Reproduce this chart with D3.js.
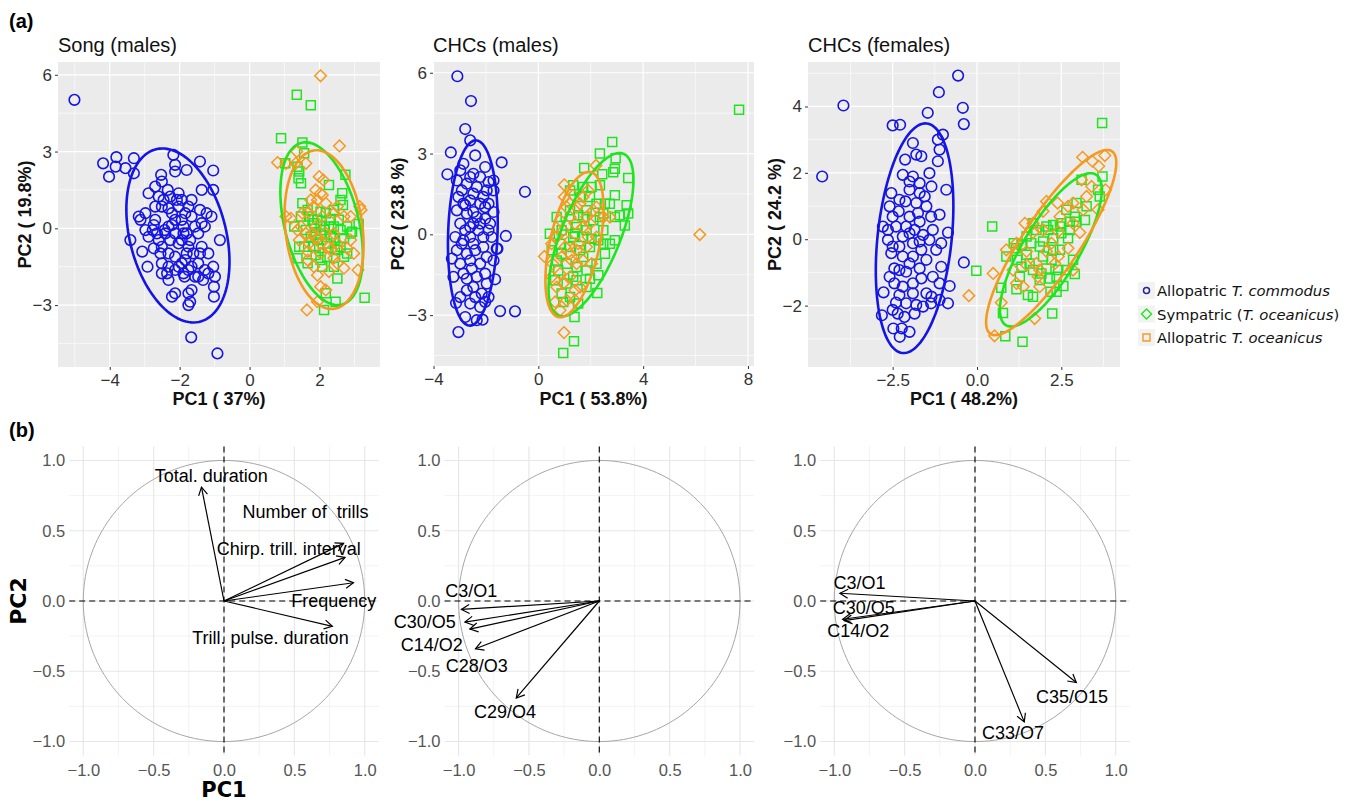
<!DOCTYPE html>
<html>
<head>
<meta charset="utf-8">
<script src="https://cdn.jsdelivr.net/npm/d3@7"></script>
<style>
  body { margin: 0; background: #fff; }
  svg { display: block; }
</style>
</head>
<body>
<svg id="fig"></svg>
<script>
// ---------- data ----------
var groups = ['commodus', 'sympatric', 'alloOceanicus'];

// (a) Song (males) : PC1 / PC2 scores
var songCommodus = [[-5.01,5.02],[-4.19,2.54],[-3.81,2.78],[-3.83,2.41],[-4.02,2.02],[-3.55,2.35],[-3.31,2.74],[-3.31,2.15],[-2.18,2.87],[-2.13,2.48],[-2.13,2.22],[-1.42,2.61],[-1.04,2.26],[-1.04,1.5],[-1.37,1.5],[-1.8,2.28],[-2.53,2.09],[-2.51,1.83],[-2.7,1.63],[-2.89,1.37],[-2.34,1.5],[-2.03,1.37],[-1.66,1.11],[-1.94,1.11],[-2.27,1.24],[-2.6,1.24],[-3.17,0.46],[-3.12,0.33],[-2.98,-0.07],[-2.74,0.13],[-3.41,-0.46],[-3.07,-0.91],[-2.89,-0.33],[-2.92,-1.5],[-2.55,-0.98],[-2.51,-1.37],[-2.36,-1.76],[-2.32,-2.02],[-2.22,-2.67],[-2.13,-2.54],[-1.75,-2.54],[-1.7,-2.87],[-1.75,-3.0],[-1.66,-2.41],[-1.86,-1.89],[-2.03,-1.5],[-1.47,-1.89],[-1.28,-1.63],[-1.04,-1.5],[-0.99,-1.89],[-1.02,-2.28],[-1.02,-2.67],[-0.85,-0.46],[-1.09,0.46],[-1.37,0.2],[-1.56,0.07],[-1.18,-0.98],[-1.42,-0.98],[-1.75,-0.72],[-1.94,-0.46],[-2.13,-0.2],[-2.32,0.07],[-2.41,-0.2],[-2.22,0.59],[-2.03,0.85],[-2.51,0.85],[-2.7,0.33],[-2.65,-0.2],[-2.51,-0.72],[-2.32,-0.98],[-2.13,-1.11],[-1.84,-1.24],[-1.66,-1.5],[-1.56,-1.89],[-1.33,-2.02],[-1.66,0.46],[-1.84,0.59],[-2.13,0.33],[-1.89,0.07],[-1.8,-0.2],[-2.03,-0.59],[-1.67,-4.26],[-0.92,-4.89],[-2.98,0.59],[-2.77,-0.07],[-1.61,-0.98],[-1.37,-0.72],[-1.89,-1.76],
  [-2.46,1.11],[-2.32,0.78],[-1.94,0.33],[-2.22,0.13],[-2.43,-0.07],[-2.6,-0.46],[-2.27,-0.46],[-1.89,-0.2],[-1.7,-0.46],[-1.47,-0.2],[-1.28,0.07],[-1.8,-0.98],[-1.94,-1.37],[-2.13,-1.63],[-1.75,-1.63],[-1.47,-1.37],[-1.18,-1.76],[-2.32,-1.5],[-2.51,-1.76],[-2.74,-0.78],[-2.08,1.11],[-1.75,0.85],[-1.42,0.72],[-1.23,0.59],[-2.7,0.85]];
var songSympatric = [[1.35,5.22],[1.75,4.81],[0.9,3.52],[1.51,3.35],[1.56,2.93],[1.02,2.54],[1.37,2.41],[1.42,2.22],[1.4,1.96],[1.47,1.76],[2.27,1.69],[2.74,2.09],[2.65,1.37],[2.6,1.11],[2.67,0.91],[1.51,0.98],[1.66,0.72],[2.03,0.65],[2.18,0.59],[2.41,0.72],[2.55,0.33],[3.12,0.17],[2.93,-0.13],[2.6,-0.07],[2.27,0.07],[1.84,0.2],[1.47,0.46],[1.28,0.07],[1.75,-0.33],[2.03,-0.2],[2.41,-0.39],[2.7,-0.39],[2.6,-0.72],[2.7,-1.11],[2.22,-1.11],[1.89,-1.04],[1.56,-0.72],[1.37,-1.17],[1.66,-1.37],[2.08,-1.5],[2.41,-1.5],[2.51,-1.96],[2.18,-2.54],[2.46,-2.87],[2.13,-3.19],[3.29,-2.71],[2.79,-0.98],[1.94,-0.46],[2.13,-0.07],[1.8,0.33],[2.32,-0.33],[1.99,-0.78],[2.44,-0.81],
  [1.7,0.46],[1.94,0.33],[2.32,0.33],[2.79,0.07],[2.41,0.07],[2.03,0.07],[1.61,-0.07],[1.89,-0.26],[2.22,-0.59],[2.51,-0.85],[1.84,-0.72],[1.42,-0.72],[2.03,-1.24],[2.89,-0.2]];
var songAlloOceanicus = [[2.03,5.96],[2.57,3.22],[0.8,2.57],[1.04,2.54],[1.35,3.0],[1.32,2.54],[1.61,2.54],[1.99,2.02],[2.11,1.89],[1.89,1.5],[1.94,1.11],[2.08,1.3],[1.75,1.11],[2.18,0.98],[2.51,0.85],[3.15,0.85],[3.19,0.72],[2.89,0.46],[1.04,0.46],[1.18,0.39],[1.37,-0.07],[1.42,-0.46],[1.61,-0.2],[1.89,0.07],[1.8,-0.2],[2.03,-0.59],[2.27,-0.72],[2.41,-0.2],[2.89,-0.46],[2.79,-0.78],[2.41,-1.17],[2.03,-0.98],[1.66,-1.24],[1.84,-1.5],[1.94,-1.83],[2.27,-1.69],[2.7,-1.56],[3.1,-1.63],[2.03,-2.28],[2.18,-2.41],[1.94,-2.87],[1.64,-3.19],[1.66,-0.91],[2.32,-0.85],[2.08,0.46],[1.66,0.59],
  [1.51,0.59],[1.84,0.85],[2.41,0.59],[2.7,0.46],[2.18,-0.2],[1.94,-0.39],[2.51,-0.59],[1.7,-0.59],[2.98,-0.98],[2.51,-1.37],[1.47,0.07],[2.03,1.37]];

// (a) CHCs (males)
var chcMCommodus = [[-3.09,5.87],[-2.57,4.95],[-2.79,3.91],[-3.34,3.04],[-2.6,3.49],[-2.41,2.93],[-3.47,2.23],[-1.4,2.67],[-0.51,1.58],[-2.86,2.62],[-2.03,2.5],[-1.71,2.0],[-3.11,2.0],[-2.73,1.88],[-2.35,1.76],[-1.97,1.63],[-1.71,1.63],[-3.05,1.39],[-2.6,1.26],[-2.22,1.14],[-1.9,1.14],[-1.71,0.83],[-3.11,0.89],[-2.73,0.77],[-2.35,0.64],[-2.03,0.58],[-2.98,0.4],[-2.6,0.27],[-2.29,0.15],[-1.9,0.15],[-1.24,-0.06],[-3.17,-0.1],[-2.86,-0.22],[-2.48,-0.35],[-2.1,-0.47],[-1.59,-0.53],[-1.71,-0.97],[-3.3,-0.9],[-2.98,-1.09],[-2.6,-0.97],[-2.22,-1.09],[-3.24,-1.58],[-2.73,-1.65],[-2.35,-1.58],[-1.65,-1.67],[-1.97,-1.83],[-2.73,-2.08],[-2.16,-2.2],[-1.9,-2.33],[-3.14,-2.55],[-2.6,-2.57],[-2.22,-2.7],[-2.03,-2.51],[-2.79,-3.07],[-2.35,-3.19],[-2.13,-3.17],[-3.05,-3.63],[-1.46,-2.85],[-0.89,-2.86],[-1.56,-0.53],[-2.48,2.25],[-2.92,-0.35],[-2.48,0.4],[-2.1,1.39],[-2.6,-0.1],[-2.86,1.14],
  [-2.98,2.38],[-2.6,2.13],[-2.22,2.13],[-1.9,1.94],[-2.92,1.63],[-2.48,1.51],[-2.03,1.01],[-2.79,1.08],[-2.48,0.83],[-2.22,0.4],[-2.79,0.15],[-2.1,-0.1],[-2.41,-0.59],[-2.73,-0.72],[-3.11,-0.59],[-1.97,-0.84],[-2.54,-1.27],[-2.86,-1.46],[-2.03,-1.46],[-2.48,-1.96],[-2.98,-2.33],[-2.41,-2.33],[-1.78,-0.1],[-1.84,0.4]];
var chcMSympatric = [[7.66,4.63],[2.82,3.43],[2.35,3.0],[2.95,2.83],[2.92,2.44],[2.86,2.31],[2.44,2.23],[3.43,2.09],[1.75,2.46],[1.33,1.82],[1.71,1.76],[2.03,1.76],[2.35,1.82],[2.92,1.45],[3.37,1.08],[3.43,0.77],[3.11,0.71],[2.92,0.64],[3.3,0.33],[2.54,1.14],[2.22,1.14],[1.84,0.89],[1.52,0.71],[1.21,0.89],[0.7,0.64],[1.08,0.33],[1.46,0.27],[1.84,0.15],[2.48,0.15],[2.92,-0.22],[2.73,-0.35],[2.54,-0.72],[2.29,-0.22],[1.97,-0.47],[1.59,-0.59],[1.21,-0.47],[0.83,-0.35],[0.51,-0.59],[0.7,-0.97],[1.08,-1.09],[1.46,-1.21],[1.84,-1.34],[2.29,-1.52],[1.97,-1.65],[1.46,-1.71],[1.08,-1.83],[0.64,-1.71],[0.89,-2.2],[1.21,-2.33],[1.52,-2.57],[0.95,-2.51],[2.25,-2.18],[1.38,-3.07],[1.36,-3.97],[0.95,-4.41],[0.44,0.02],[1.71,-0.1],[1.33,-0.1],[2.1,0.52],[2.48,0.77],
  [1.21,1.63],[1.59,1.39],[1.97,1.39],[2.73,1.14],[2.35,0.64],[1.71,0.64],[0.89,0.15],[1.4,0.02],[2.03,-0.16],[2.48,-0.35],[0.89,-0.72],[1.71,-0.84],[2.22,-1.09],[1.33,-1.58],[0.76,-1.34],[1.84,-1.96]];
var chcMAlloOceanicus = [[6.16,-0.01],[2.2,2.56],[0.99,1.84],[0.99,1.39],[1.33,1.45],[1.71,1.39],[1.9,1.63],[1.46,1.01],[1.21,0.64],[1.84,0.64],[0.95,0.15],[0.7,-0.1],[1.21,-0.22],[1.52,-0.35],[1.9,-0.1],[0.23,-0.82],[0.55,-1.09],[0.89,-0.84],[1.27,-0.97],[1.71,-0.97],[2.03,-1.09],[0.83,-1.46],[1.21,-1.58],[1.59,-1.96],[0.7,-1.96],[1.08,-2.45],[0.64,-2.51],[0.83,-2.82],[1.4,-2.45],[0.98,-3.65],[2.22,1.01],[2.48,0.64],[2.73,0.64],[1.21,1.14],[1.71,0.27],[1.97,0.4],[1.02,-0.47],[0.63,-0.1],[1.46,-0.59],[1.84,-0.47],
  [1.08,1.01],[1.59,1.14],[0.83,0.52],[1.4,0.4],[2.1,0.89],[0.51,-0.35],[1.21,-0.72],[1.46,-1.09],[0.95,-1.83],[1.4,-2.08],[0.51,-1.58],[2.22,-0.1]];

// (a) CHCs (females)
var chcFCommodus = [[-4.59,1.89],[-3.96,4.03],[-0.56,4.93],[-1.13,4.43],[-1.46,3.81],[-0.42,3.96],[-0.39,3.47],[-2.5,3.43],[-2.28,3.45],[-1.01,3.15],[-1.16,3.0],[-1.9,2.9],[-1.11,2.7],[-1.8,2.55],[-1.65,2.5],[-2.13,2.4],[-1.16,2.35],[-1.41,1.99],[-2.2,1.94],[-1.9,1.89],[-1.35,1.59],[-0.91,1.49],[-2.54,1.39],[-2.0,1.49],[-1.7,1.39],[-2.12,1.14],[-1.8,1.09],[-1.5,0.99],[-2.59,0.99],[-1.11,0.74],[-2.32,0.84],[-2.0,0.68],[-1.7,0.53],[-2.79,0.38],[-2.4,0.38],[-2.1,0.38],[-1.85,0.28],[-0.86,0.2],[-2.64,-0.02],[-2.2,0.08],[-1.41,-0.02],[-1.9,-0.12],[-2.54,-0.42],[-2.2,-0.52],[-1.65,-0.32],[-1.21,-0.32],[-0.39,-0.7],[-1.06,-0.83],[-1.7,-0.88],[-2.45,-0.88],[-2.1,-0.98],[-1.31,-1.13],[-2.45,-1.33],[-1.9,-1.33],[-0.81,-1.41],[-2.77,-1.6],[-2.3,-1.68],[-1.5,-1.63],[-1.35,-1.73],[-1.11,-1.83],[-0.86,-1.93],[-2.4,-1.91],[-2.1,-1.93],[-1.8,-1.98],[-1.6,-2.03],[-2.82,-2.29],[-2.35,-2.24],[-2.15,-2.34],[-2.48,-2.69],[-2.23,-2.69],[-2.0,-2.79],[-2.29,-2.94],[-1.6,0.13],[-2.3,-0.22],[-2.0,-0.73],
  [-2.0,1.74],[-1.7,1.69],[-1.55,1.29],[-2.3,1.19],[-2.5,0.68],[-1.75,0.79],[-1.36,0.68],[-2.64,0.28],[-2.0,0.18],[-1.31,0.28],[-1.06,-0.12],[-1.7,-0.07],[-2.5,-0.22],[-1.9,-0.52],[-1.5,-0.62],[-2.3,-0.93],[-2.59,-1.13],[-1.65,-1.18],[-1.11,-1.33],[-2.2,-1.43],[-1.9,-1.63],[-2.5,-2.13],[-1.85,-2.24],[-1.36,-1.93]];
var chcFSympatric = [[3.71,3.5],[3.72,1.89],[3.59,1.49],[3.64,1.29],[3.1,1.79],[3.25,0.99],[2.95,1.09],[2.65,0.89],[3.2,0.58],[2.95,0.53],[2.75,0.53],[2.5,0.48],[2.26,0.43],[2.06,0.38],[2.5,0.18],[2.7,0.03],[2.26,0.03],[1.96,-0.07],[1.61,-0.12],[1.32,-0.17],[1.15,-0.27],[1.09,-0.12],[0.45,0.38],[-0.02,-0.95],[0.87,-0.52],[1.19,-0.62],[1.47,-0.47],[1.96,-0.52],[2.21,-0.62],[2.41,-0.93],[2.65,-0.93],[2.9,-1.05],[1.32,-0.83],[1.66,-0.93],[1.91,-1.03],[2.16,-1.18],[2.56,-1.41],[0.72,-1.46],[1.17,-1.51],[1.51,-1.68],[1.66,-1.73],[2.18,-1.58],[2.36,-1.58],[0.77,-2.22],[2.23,-2.24],[0.84,-2.92],[1.35,-3.09],[1.86,-1.23],[2.46,-0.32],[1.76,0.28],[2.9,0.68],
  [1.66,0.48],[2.11,0.28],[2.46,0.38],[2.75,0.28],[1.47,0.08],[1.86,-0.22],[2.26,-0.32],[1.56,-0.73],[2.06,-0.88],[2.36,-1.13],[1.27,-1.13],[2.85,-0.62]];
var chcFAlloOceanicus = [[3.13,2.47],[3.42,2.35],[3.79,2.52],[3.61,2.2],[3.81,1.49],[3.59,0.89],[3.1,1.79],[3.25,1.29],[2.85,1.09],[2.39,1.09],[2.06,1.14],[1.96,0.84],[2.7,0.99],[3.05,0.2],[2.41,0.23],[1.66,0.48],[1.42,0.48],[1.66,0.2],[2.21,-0.12],[2.7,-0.27],[0.87,-0.32],[1.47,-0.37],[2.06,-0.37],[1.47,-0.78],[1.76,-0.73],[0.48,-1.03],[1.17,-1.33],[1.37,-1.43],[1.81,-1.13],[1.86,-1.43],[0.72,-1.91],[-0.24,-1.7],[1.71,-2.39],[0.52,-2.91],[2.85,-0.93],[2.31,-0.73],
  [1.96,0.28],[2.46,0.68],[2.85,0.48],[1.17,-0.12],[1.86,-0.93],[2.41,-0.52],[1.07,-0.93],[3.15,0.89],[3.4,1.59]];

// 95% ellipses: centre x, centre y, half-extent x, half-extent y, correlation
var songEllipses = [[-2.05,-0.28,1.475,3.4,-0.3],[2.06,0.18,1.18,3.18,-0.39],[2.13,-0.05,1.13,3.1,-0.19]];
var chcMEllipses = [[-2.5,0.05,0.95,3.44,0.12],[2.01,-0.01,1.62,3.03,0.67],[1.38,-0.38,1.11,2.7,0.49]];
var chcFEllipses = [[-1.85,0.03,1.15,3.46,0.28],[2.19,-0.32,1.51,2.31,0.78],[2.2,-0.1,1.93,2.79,0.86]];

// (b) variable loadings
var songVars = ['Total. duration','Number of  trills','Chirp. trill. interval','Frequency','Trill. pulse. duration'];
var songLoadings = [[-0.16,0.81],[0.85,0.41],[0.86,0.31],[0.92,0.13],[0.77,-0.18]];
var songLabelPos = [[-0.09,0.89],[0.58,0.63],[0.46,0.37],[0.78,0.0],[0.33,-0.26]];
var chcMVars = ['C3/O1','C30/O5','C14/O2','C28/O3','C29/O4'];
var chcMLoadings = [[-0.98,-0.06],[-0.955,-0.15],[-0.92,-0.2],[-0.88,-0.34],[-0.59,-0.69]];
var chcMLabelPos = [[-0.91,0.07],[-1.24,-0.15],[-1.19,-0.31],[-0.87,-0.46],[-0.67,-0.79]];
var chcFVars = ['C3/O1','C30/O5','C14/O2','C35/O15','C33/O7'];
var chcFLoadings = [[-0.96,0.055],[-0.94,-0.13],[-0.93,-0.14],[0.72,-0.58],[0.35,-0.86]];
var chcFLabelPos = [[-0.82,0.13],[-0.79,-0.05],[-0.83,-0.21],[0.69,-0.68],[0.27,-0.94]];

var colors = {commodus:'#1414e6', sympatric:'#1ee61e', alloOceanicus:'#f59a1e'};
var legendLabels = [
  ['Allopatric ', 'T. commodus', ''],
  ['Sympatric (', 'T. oceanicus', ')'],
  ['Allopatric ', 'T. oceanicus', '']
];

// ---------- drawing ----------
var width = 1354, height = 803;
var svg = d3.select('#fig').attr('width', width).attr('height', height)
  .style('font-family', '"Liberation Sans", Arial, sans-serif');

var defs = svg.append('defs');
defs.append('marker').attr('id', 'arr')
  .attr('viewBox', '-10 -6 12 12').attr('refX', 0).attr('refY', 0)
  .attr('markerWidth', 12).attr('markerHeight', 12)
  .attr('markerUnits', 'userSpaceOnUse').attr('orient', 'auto')
  .append('path').attr('d', 'M-8,-4.5L0,0L-8,4.5')
  .attr('fill', 'none').attr('stroke', '#000').attr('stroke-width', 1.2);

function shapePath(kind) {
  if (kind == 'square') return 'M-4.5,-4.5H4.5V4.5H-4.5Z';
  if (kind == 'diamond') return 'M0,-5.8L5.8,0L0,5.8L-5.8,0Z';
  return null;
}

function scatterPanel(cfg) {
  var x = d3.scaleLinear().domain(cfg.xDom).range([cfg.left, cfg.right]);
  var y = d3.scaleLinear().domain(cfg.yDom).range([cfg.bottom, cfg.top]);
  var g = svg.append('g');

  g.append('rect').attr('x', cfg.left).attr('y', cfg.top)
    .attr('width', cfg.right - cfg.left).attr('height', cfg.bottom - cfg.top)
    .attr('fill', '#ebebeb');

  // grid
  g.selectAll('.vminor').data(cfg.xMinor).enter().append('line')
    .attr('x1', x).attr('x2', x).attr('y1', cfg.top).attr('y2', cfg.bottom)
    .attr('stroke', '#fff').attr('stroke-width', 0.6);
  g.selectAll('.hminor').data(cfg.yMinor).enter().append('line')
    .attr('y1', y).attr('y2', y).attr('x1', cfg.left).attr('x2', cfg.right)
    .attr('stroke', '#fff').attr('stroke-width', 0.6);
  g.selectAll('.vmajor').data(cfg.xTicks).enter().append('line')
    .attr('x1', x).attr('x2', x).attr('y1', cfg.top).attr('y2', cfg.bottom)
    .attr('stroke', '#fff').attr('stroke-width', 1.2);
  g.selectAll('.hmajor').data(cfg.yTicks).enter().append('line')
    .attr('y1', y).attr('y2', y).attr('x1', cfg.left).attr('x2', cfg.right)
    .attr('stroke', '#fff').attr('stroke-width', 1.2);

  // axes
  var xa = g.append('g').attr('transform', 'translate(0,' + cfg.bottom + ')')
    .call(d3.axisBottom(x).tickValues(cfg.xTicks).tickSize(3).tickPadding(4).tickFormat(cfg.fmtX));
  var ya = g.append('g').attr('transform', 'translate(' + cfg.left + ',0)')
    .call(d3.axisLeft(y).tickValues(cfg.yTicks).tickSize(3).tickPadding(3).tickFormat(cfg.fmtY));
  [xa, ya].forEach(function(a) {
    a.select('.domain').remove();
    a.selectAll('line').attr('stroke', '#333');
    a.selectAll('text').attr('fill', '#333').style('font-size', '17px')
      .style('font-family', '"Liberation Sans", Arial, sans-serif');
  });

  // points
  cfg.sets.forEach(function(set) {
    var col = colors[set.group];
    var pts = g.append('g').selectAll('g').data(set.data).enter().append('g')
      .attr('transform', function(d) { return 'translate(' + x(d[0]) + ',' + y(d[1]) + ')'; });
    if (set.shape == 'circle') {
      pts.append('circle').attr('r', 5.3).attr('fill', 'none')
        .attr('stroke', col).attr('stroke-width', 1.6);
    } else {
      pts.append('path').attr('d', shapePath(set.shape)).attr('fill', 'none')
        .attr('stroke', col).attr('stroke-width', 1.5);
    }
  });

  // ellipses
  var line = d3.line().x(function(p) { return x(p[0]); }).y(function(p) { return y(p[1]); })
    .curve(d3.curveLinearClosed);
  cfg.ellipses.forEach(function(e, i) {
    var phi = Math.acos(e[4]);
    var pts = d3.range(0, 360, 3).map(function(a) {
      var t = a * Math.PI / 180;
      return [e[0] + e[2] * Math.cos(t), e[1] + e[3] * Math.cos(t - phi)];
    });
    g.append('path').attr('d', line(pts)).attr('fill', 'none')
      .attr('stroke', colors[groups[i]]).attr('stroke-width', 2.6);
  });

  // titles
  g.append('text').attr('x', cfg.left).attr('y', 52).text(cfg.title)
    .style('font-size', '20px').attr('fill', '#111');
  g.append('text').attr('x', (cfg.left + cfg.right) / 2).attr('y', 405)
    .attr('text-anchor', 'middle').text(cfg.xTitle)
    .style('font-size', '18px').style('font-weight', 'bold').attr('fill', '#111');
  g.append('text').attr('transform', 'translate(' + cfg.yTitleX + ',' + ((cfg.top + cfg.bottom) / 2) + ') rotate(-90)')
    .attr('text-anchor', 'middle').text(cfg.yTitle)
    .style('font-size', '18px').style('font-weight', 'bold').attr('fill', '#111');
}

var f0 = d3.format('d'), f1 = d3.format('.1f');

scatterPanel({
  left: 58, right: 380, top: 62, bottom: 367,
  xDom: [-5.48, 3.73], yDom: [-5.42, 6.5],
  xTicks: [-4, -2, 0, 2], xMinor: [-5, -3, -1, 1, 3],
  yTicks: [-3, 0, 3, 6], yMinor: [-4.5, -1.5, 1.5, 4.5],
  fmtX: f0, fmtY: f0,
  title: 'Song (males)', xTitle: 'PC1 ( 37%)', yTitle: 'PC2 ( 19.8%)', yTitleX: 31,
  ellipses: songEllipses,
  sets: [
    {group: 'commodus', shape: 'circle', data: songCommodus},
    {group: 'sympatric', shape: 'square', data: songSympatric},
    {group: 'alloOceanicus', shape: 'diamond', data: songAlloOceanicus}
  ]
});

scatterPanel({
  left: 433, right: 754, top: 62, bottom: 366,
  xDom: [-4.02, 8.23], yDom: [-4.89, 6.4],
  xTicks: [-4, 0, 4, 8], xMinor: [-2, 2, 6],
  yTicks: [-3, 0, 3, 6], yMinor: [-4.5, -1.5, 1.5, 4.5],
  fmtX: f0, fmtY: f0,
  title: 'CHCs (males)', xTitle: 'PC1 ( 53.8%)', yTitle: 'PC2 ( 23.8 %)', yTitleX: 404,
  ellipses: chcMEllipses,
  sets: [
    {group: 'commodus', shape: 'circle', data: chcMCommodus},
    {group: 'sympatric', shape: 'square', data: chcMSympatric},
    {group: 'alloOceanicus', shape: 'diamond', data: chcMAlloOceanicus}
  ]
});

scatterPanel({
  left: 808, right: 1120, top: 62, bottom: 367,
  xDom: [-5.01, 4.24], yDom: [-3.85, 5.34],
  xTicks: [-2.5, 0, 2.5], xMinor: [-3.75, -1.25, 1.25, 3.75],
  yTicks: [-2, 0, 2, 4], yMinor: [-3, -1, 1, 3, 5],
  fmtX: f1, fmtY: f0,
  title: 'CHCs (females)', xTitle: 'PC1 ( 48.2%)', yTitle: 'PC2 ( 24.2 %)', yTitleX: 781,
  ellipses: chcFEllipses,
  sets: [
    {group: 'commodus', shape: 'circle', data: chcFCommodus},
    {group: 'sympatric', shape: 'square', data: chcFSympatric},
    {group: 'alloOceanicus', shape: 'diamond', data: chcFAlloOceanicus}
  ]
});

// legend
var leg = svg.append('g').style('font-family', '"DejaVu Sans", Verdana, sans-serif');
var legShapes = ['circle', 'diamond', 'square'];
legendLabels.forEach(function(lab, i) {
  var cy = 291 + i * 23.5;
  leg.append('rect').attr('x', 1138).attr('y', cy - 9).attr('width', 17).attr('height', 17)
    .attr('fill', '#f2f2f2');
  if (legShapes[i] == 'circle') {
    leg.append('circle').attr('cx', 1146.5).attr('cy', cy - 0.5).attr('r', 3)
      .attr('fill', 'none').attr('stroke', '#23239a').attr('stroke-width', 1.5);
  } else if (legShapes[i] == 'diamond') {
    leg.append('path').attr('transform', 'translate(1146.5,' + (cy - 0.5) + ')')
      .attr('d', 'M0,-5L5,0L0,5L-5,0Z').attr('fill', 'none')
      .attr('stroke', colors[groups[i]]).attr('stroke-width', 1.4);
  } else {
    leg.append('path').attr('transform', 'translate(1146.5,' + (cy - 0.5) + ')')
      .attr('d', 'M-3.5,-3.5H3.5V3.5H-3.5Z').attr('fill', 'none')
      .attr('stroke', colors[groups[i]]).attr('stroke-width', 1.4);
  }
  var t = leg.append('text').attr('x', 1157).attr('y', cy + 5)
    .style('font-size', '14.8px').attr('fill', '#111');
  t.append('tspan').text(lab[0]);
  t.append('tspan').style('font-style', 'italic').text(lab[1]);
  t.append('tspan').text(lab[2]);
});

// (b) correlation circles
function loadingPanel(cfg) {
  var x = d3.scaleLinear().domain([-1.1, 1.1]).range([cfg.left, cfg.left + 309.6]);
  var y = d3.scaleLinear().domain([-1.1, 1.1]).range([755.6, 446.4]);
  var g = svg.append('g');
  var major = [-1, -0.5, 0, 0.5, 1], minor = [-0.75, -0.25, 0.25, 0.75];

  g.selectAll('.gm').data(minor).enter().append('line')
    .attr('x1', x).attr('x2', x).attr('y1', y(1.1)).attr('y2', y(-1.1))
    .attr('stroke', '#f0f0f0').attr('stroke-width', 0.8);
  g.selectAll('.gmh').data(minor).enter().append('line')
    .attr('y1', y).attr('y2', y).attr('x1', x(-1.1)).attr('x2', x(1.1))
    .attr('stroke', '#f0f0f0').attr('stroke-width', 0.8);
  g.selectAll('.gM').data(major).enter().append('line')
    .attr('x1', x).attr('x2', x).attr('y1', y(1.1)).attr('y2', y(-1.1))
    .attr('stroke', '#e6e6e6').attr('stroke-width', 1.1);
  g.selectAll('.gMh').data(major).enter().append('line')
    .attr('y1', y).attr('y2', y).attr('x1', x(-1.1)).attr('x2', x(1.1))
    .attr('stroke', '#e6e6e6').attr('stroke-width', 1.1);

  var xa = g.append('g').attr('transform', 'translate(0,' + y(-1.1) + ')')
    .call(d3.axisBottom(x).tickValues(major).tickSize(0).tickPadding(9).tickFormat(f1));
  var ya = g.append('g').attr('transform', 'translate(' + x(-1.1) + ',0)')
    .call(d3.axisLeft(y).tickValues(major).tickSize(0).tickPadding(4).tickFormat(f1));
  [xa, ya].forEach(function(a) {
    a.select('.domain').remove();
    a.selectAll('text').attr('fill', '#555').style('font-size', '16.5px')
      .style('font-family', '"Liberation Sans", Arial, sans-serif');
  });

  // unit circle
  var circ = d3.range(0, 361, 2).map(function(a) {
    var t = a * Math.PI / 180; return [Math.cos(t), Math.sin(t)];
  });
  g.append('path').attr('d', d3.line().x(function(p) { return x(p[0]); }).y(function(p) { return y(p[1]); })(circ))
    .attr('fill', 'none').attr('stroke', '#a6a6a6').attr('stroke-width', 1);

  g.append('line').attr('x1', x(-1.1)).attr('x2', x(1.1)).attr('y1', y(0)).attr('y2', y(0))
    .attr('stroke', '#000').attr('stroke-width', 1.1).attr('stroke-dasharray', '6,4');
  g.append('line').attr('x1', x(0)).attr('x2', x(0)).attr('y1', y(1.1)).attr('y2', y(-1.1))
    .attr('stroke', '#000').attr('stroke-width', 1.1).attr('stroke-dasharray', '6,4');

  g.selectAll('.arrow').data(cfg.loadings).enter().append('line')
    .attr('x1', x(0)).attr('y1', y(0))
    .attr('x2', function(d) { return x(d[0]); }).attr('y2', function(d) { return y(d[1]); })
    .attr('stroke', '#000').attr('stroke-width', 1.2).attr('marker-end', 'url(#arr)');

  g.selectAll('.lab').data(cfg.labelPos).enter().append('text')
    .attr('x', function(d) { return x(d[0]); }).attr('y', function(d) { return y(d[1]) + 6; })
    .attr('text-anchor', 'middle').style('font-size', '18px').style('white-space', 'pre')
    .attr('fill', '#000')
    .text(function(d, i) { return cfg.vars[i]; });

  if (cfg.axisTitles) {
    g.append('text').attr('x', x(0)).attr('y', 797).attr('text-anchor', 'middle')
      .style('font-family', '"DejaVu Sans", Verdana, sans-serif').style('font-weight', 'bold')
      .style('font-size', '21px').text('PC1');
    g.append('text').attr('transform', 'translate(26,' + y(0) + ') rotate(-90)').attr('text-anchor', 'middle')
      .style('font-family', '"DejaVu Sans", Verdana, sans-serif').style('font-weight', 'bold')
      .style('font-size', '22px').text('PC2');
  }
}

loadingPanel({left: 69.2, vars: songVars, loadings: songLoadings, labelPos: songLabelPos, axisTitles: true});
loadingPanel({left: 444.5, vars: chcMVars, loadings: chcMLoadings, labelPos: chcMLabelPos});
loadingPanel({left: 820.2, vars: chcFVars, loadings: chcFLoadings, labelPos: chcFLabelPos});

// panel letters
svg.append('text').attr('x', 9).attr('y', 28).style('font-size', '20px').style('font-weight', 'bold').text('(a)');
svg.append('text').attr('x', 9).attr('y', 437).style('font-size', '20px').style('font-weight', 'bold').text('(b)');
</script>
</body>
</html>
